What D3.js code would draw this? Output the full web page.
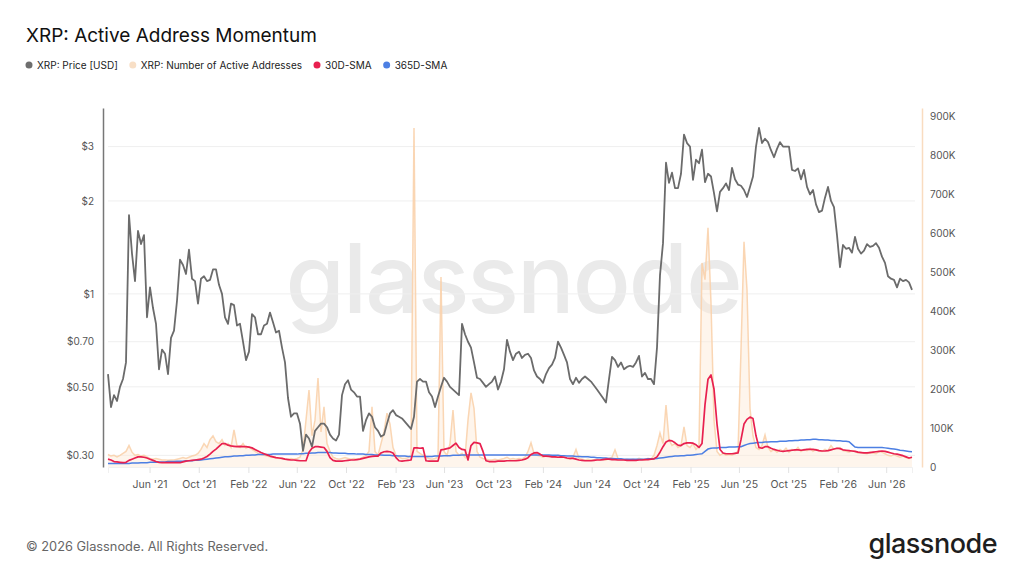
<!DOCTYPE html>
<html>
<head>
<meta charset="utf-8">
<script src="https://cdn.jsdelivr.net/npm/d3@7"></script>
<style>
  html, body { margin: 0; padding: 0; background: #fff; }
  svg { display: block; font-family: Inter, "Noto Sans", sans-serif; }
</style>
</head>
<body>
<svg id="chart" width="1024" height="576"></svg>
<script>
// Series sampled on an even grid between the first and last day shown
var startDay = Date.UTC(2021, 1, 18);
var endDay = Date.UTC(2026, 7, 4);

var priceUsd = [
  0.55,0.43,0.47,0.45,0.50,0.53,0.60,1.80,1.35,1.10,
  1.60,1.45,1.55,0.84,1.05,0.90,0.80,0.57,0.66,0.64,
  0.55,0.72,0.76,0.95,1.29,1.24,1.16,1.39,1.12,1.10,
  0.93,1.12,1.14,1.10,1.11,1.20,1.20,1.07,1.00,0.84,
  0.80,0.93,0.92,0.79,0.80,0.70,0.61,0.65,0.86,0.84,
  0.74,0.74,0.79,0.80,0.87,0.81,0.75,0.76,0.67,0.60,
  0.46,0.40,0.41,0.41,0.38,0.31,0.35,0.34,0.32,0.36,
  0.37,0.38,0.38,0.37,0.35,0.34,0.335,0.35,0.47,0.51,
  0.525,0.49,0.48,0.465,0.465,0.36,0.39,0.41,0.40,0.37,
  0.36,0.345,0.35,0.38,0.41,0.42,0.405,0.40,0.395,0.385,
  0.375,0.365,0.40,0.52,0.53,0.52,0.52,0.48,0.465,0.43,
  0.465,0.50,0.535,0.52,0.50,0.49,0.48,0.47,0.80,0.74,
  0.70,0.67,0.60,0.535,0.53,0.515,0.50,0.51,0.52,0.54,
  0.49,0.52,0.57,0.71,0.65,0.61,0.64,0.65,0.62,0.635,
  0.64,0.62,0.565,0.54,0.53,0.515,0.55,0.575,0.59,0.62,
  0.70,0.67,0.635,0.60,0.53,0.51,0.535,0.515,0.53,0.54,
  0.53,0.52,0.505,0.49,0.475,0.46,0.445,0.53,0.625,0.61,
  0.58,0.60,0.57,0.58,0.585,0.58,0.60,0.63,0.54,0.555,
  0.53,0.53,0.51,0.67,1.15,1.46,2.66,2.29,2.47,2.20,
  2.20,2.45,3.28,3.08,3.00,2.34,2.72,2.65,2.93,2.30,
  2.45,2.40,2.12,1.85,2.14,2.20,2.28,2.17,2.56,2.35,
  2.26,2.24,2.17,2.06,2.22,2.40,3.00,3.45,3.08,3.18,
  3.10,2.92,2.77,2.95,3.10,3.00,3.00,3.00,2.52,2.50,
  2.55,2.35,2.52,2.22,2.10,2.17,1.95,1.84,1.86,2.05,
  2.22,2.00,1.91,1.55,1.22,1.44,1.40,1.41,1.36,1.53,
  1.40,1.35,1.38,1.45,1.42,1.43,1.46,1.41,1.32,1.26,
  1.14,1.12,1.11,1.05,1.12,1.10,1.11,1.09,1.03
];

// active addresses, thousands
var activeK = [
  32,28,30,26,30,35,40,55,38,30,
  32,28,30,26,22,20,22,20,18,18,
  17,18,18,20,22,24,22,25,28,30,
  35,45,60,50,70,80,65,60,70,55,
  60,50,95,55,50,60,48,52,45,40,
  35,32,30,28,26,25,24,22,22,20,
  20,22,20,22,25,45,120,197,80,120,
  228,90,154,60,40,25,22,20,22,24,
  22,20,22,20,22,25,30,40,154,40,
  30,60,90,138,110,50,30,25,22,22,
  24,30,869,40,35,30,25,22,20,22,
  25,487,40,30,60,146,40,30,35,25,
  120,190,150,40,25,22,20,18,18,20,
  18,20,22,25,20,22,20,22,20,25,
  40,62,35,30,28,25,28,30,26,25,
  30,28,25,22,20,25,45,22,20,18,
  20,18,18,20,18,20,18,22,25,44,
  22,20,18,20,18,20,18,22,20,18,
  22,20,30,55,87,60,159,70,55,60,
  50,55,103,55,50,60,45,55,523,480,
  613,420,120,40,30,35,30,32,30,35,
  40,300,577,454,150,80,50,45,55,82,
  50,40,45,38,45,40,48,38,45,42,
  50,40,45,42,48,40,45,42,40,45,
  42,55,45,48,50,42,40,38,42,40,
  36,38,35,34,38,36,34,40,38,34,
  30,28,32,28,25,28,24,22,25
];

var sma30K = [
  20,18,14,13,12,11,12,17,20,23,
  26,26,25,23,20,17,14,12,11,11,
  11,11,11,11,11,13,15,16,17,18,
  19,20,23,27,33,40,46,53,60,60,
  56,54,53,52,53,52,52,51,49,45,
  41,37,34,31,28,26,24,23,22,20,
  19,18,18,17,16,16,16,38,48,52,
  52,51,50,40,24,17,15,15,15,16,
  17,18,18,19,20,22,24,26,27,28,
  28,36,39,40,39,36,24,16,15,16,
  17,18,49,49,48,49,16,15,15,15,
  15,44,45,47,49,55,61,50,45,44,
  18,55,63,62,60,40,16,14,14,14,
  15,15,15,16,16,16,16,17,18,20,
  24,32,36,37,33,28,28,27,26,26,
  25,26,25,23,22,22,20,18,17,16,
  16,16,17,18,18,19,20,20,19,19,
  18,18,18,17,17,17,17,18,18,19,
  19,20,21,26,38,52,64,68,67,62,
  56,55,60,62,62,61,57,50,60,160,
  225,236,200,110,45,36,34,34,34,35,
  36,70,110,122,128,124,80,50,48,52,
  52,48,45,43,41,40,41,42,43,44,
  44,43,44,45,45,45,44,42,41,41,
  42,44,46,48,47,44,43,42,41,40,
  38,37,36,36,37,38,39,40,41,40,
  38,36,34,33,31,29,26,23,25
];

var sma365K = [
  9,9,9,9,9,9,9,
  9,10,10,10,11,11,11,12,12,12,13,
  13,13,14,14,14,15,15,15,16,16,16,
  17,17,18,19,20,21,22,23,24,25,26,
  26,27,28,28,29,29,30,30,31,31,32,
  32,32,32,32,33,33,33,33,33,33,33,
  33,33,34,34,35,35,36,36,37,37,37,
  37,37,36,36,35,35,35,34,34,34,33,
  33,33,32,32,32,31,31,31,30,30,30,
  29,29,28,28,28,27,27,27,27,27,27,
  27,27,27,28,28,28,29,29,29,30,30,
  30,31,31,31,31,31,31,31,31,31,31,
  31,31,31,31,31,31,31,31,31,31,31,
  31,31,31,31,31,31,31,31,31,30,30,
  30,29,29,28,28,28,27,27,26,26,26,
  25,25,24,24,23,23,22,22,21,21,21,
  20,20,20,20,20,20,20,20,21,21,21,
  22,23,24,25,26,27,28,28,29,29,30,
  30,31,32,33,34,40,46,48,49,49,50,
  50,50,51,51,51,52,52,55,58,60,61,
  62,63,63,64,64,65,65,65,66,66,66,
  67,67,68,68,69,69,70,70,71,71,70,
  70,69,69,68,68,67,67,66,66,65,58,
  51,50,50,50,50,50,50,50,50,50,49,
  48,47,46,45,43,42,41,40,39
];

var priceTicks = [0.3, 0.5, 0.7, 1, 2, 3];
var priceTickLabels = ["$0.30", "$0.50", "$0.70", "$1", "$2", "$3"];
var addrTicks = [0, 100, 200, 300, 400, 500, 600, 700, 800, 900];

var legendNames = ["XRP: Price [USD]", "XRP: Number of Active Addresses", "30D-SMA", "365D-SMA"];
var legendColors = ["#6e6e6e", "#f8dfc6", "#e8204f", "#4c7fe3"];

var colors = {price: "#6b6b6b", addr: "#f9d2ac", sma30: "#e8204f", sma365: "#4c7fe3"};
var margin = {top: 108, right: 112, bottom: 109, left: 108};
var W = 1024, H = 576;

var svg = d3.select("#chart");

function withDates(values) {
  var step = (endDay - startDay) / (values.length - 1);
  return values.map(function (v, i) {
    return {date: new Date(startDay + i * step), value: v};
  });
}

var x = d3.scaleUtc()
  .domain([new Date(startDay), new Date(endDay)])
  .range([margin.left, W - margin.right]);

var yPrice = d3.scaleLog()
  .domain([0.275, 4.0])
  .range([H - margin.bottom, margin.top]);

var yAddr = d3.scaleLinear()
  .domain([0, 920])
  .range([H - margin.bottom, margin.top]);

// title + legend
svg.append("text")
  .attr("x", 26).attr("y", 42)
  .attr("font-size", 19)
  .attr("fill", "#111")
  .text("XRP: Active Address Momentum");

var legend = svg.append("g").attr("transform", "translate(0,65)");
var cursor = 29;
legendNames.forEach(function (name, i) {
  legend.append("circle")
    .attr("cx", cursor)
    .attr("r", 3.5)
    .attr("fill", legendColors[i]);
  var t = legend.append("text")
    .attr("x", cursor + 8).attr("dy", "0.35em")
    .attr("font-size", 10)
    .attr("fill", "#222")
    .text(name);
  cursor += 8 + t.node().getComputedTextLength() + 15;
});

// watermark
svg.append("text")
  .attr("x", 513).attr("y", 313)
  .attr("text-anchor", "middle")
  .attr("font-size", 96)
  .attr("font-weight", 500)
  .attr("letter-spacing", -2)
  .attr("fill", "#eaeaea")
  .text("glassnode");

// grid lines on the price ticks
svg.append("g").selectAll("line")
  .data(priceTicks)
  .enter().append("line")
  .attr("x1", margin.left).attr("x2", W - margin.right + 3)
  .attr("y1", function (d) { return yPrice(d); })
  .attr("y2", function (d) { return yPrice(d); })
  .attr("stroke", "#efefef");

// x axis
var xTicks = d3.utcMonth.range(new Date(Date.UTC(2021, 0, 1)), new Date(endDay))
  .filter(function (d) { return d.getUTCMonth() % 4 === 1 && d > new Date(startDay); });
var xAxis = svg.append("g")
  .attr("transform", "translate(0," + (H - margin.bottom) + ")")
  .call(d3.axisBottom(x).tickValues(xTicks).tickFormat(d3.utcFormat("%b '%y")).tickSize(6).tickPadding(8));
xAxis.select(".domain").attr("stroke", "#f0f0f0");
xAxis.selectAll(".tick line").attr("stroke", "#e2e2e2");
xAxis.selectAll("text").attr("font-size", 10.5).attr("fill", "#555").attr("font-family", "Inter, sans-serif");

// left axis
var leftAxis = svg.append("g")
  .attr("transform", "translate(103,0)")
  .call(d3.axisLeft(yPrice).tickValues(priceTicks)
    .tickFormat(function (d, i) { return priceTickLabels[i]; })
    .tickSize(0).tickPadding(9));
leftAxis.select(".domain").attr("stroke", "#777").attr("stroke-width", 1.5);
leftAxis.selectAll("text").attr("font-size", 10).attr("fill", "#555").attr("font-family", "Inter, sans-serif");

// right axis
var rightAxis = svg.append("g")
  .attr("transform", "translate(922,0)")
  .call(d3.axisRight(yAddr).tickValues(addrTicks)
    .tickFormat(function (d) { return d === 0 ? "0" : d + "K"; })
    .tickSize(0).tickPadding(8));
rightAxis.select(".domain").attr("stroke", "#f9dcc0").attr("stroke-width", 1.5);
rightAxis.selectAll("text").attr("font-size", 10).attr("fill", "#555").attr("font-family", "Inter, sans-serif");

// series
var addrLine = d3.line()
  .x(function (d) { return x(d.date); })
  .y(function (d) { return yAddr(d.value); });
var addrArea = d3.area()
  .x(function (d) { return x(d.date); })
  .y0(yAddr(0))
  .y1(function (d) { return yAddr(d.value); });
var priceLine = d3.line()
  .x(function (d) { return x(d.date); })
  .y(function (d) { return yPrice(d.value); });

var addrData = withDates(activeK);
svg.append("path")
  .datum(addrData)
  .attr("d", addrArea)
  .attr("fill", "#fde8d4")
  .attr("fill-opacity", 0.45);
svg.append("path")
  .datum(addrData)
  .attr("d", addrLine)
  .attr("fill", "none")
  .attr("stroke", colors.addr)
  .attr("stroke-width", 1.5)
  .attr("stroke-opacity", 0.9);

svg.append("path")
  .datum(withDates(priceUsd))
  .attr("d", priceLine)
  .attr("fill", "none")
  .attr("stroke", colors.price)
  .attr("stroke-width", 1.8)
  .attr("stroke-linejoin", "round");

svg.append("path")
  .datum(withDates(sma365K))
  .attr("d", addrLine)
  .attr("fill", "none")
  .attr("stroke", colors.sma365)
  .attr("stroke-width", 1.5);

svg.append("path")
  .datum(withDates(sma30K))
  .attr("d", addrLine)
  .attr("fill", "none")
  .attr("stroke", colors.sma30)
  .attr("stroke-width", 1.7)
  .attr("stroke-linejoin", "round");

// footer
svg.append("text")
  .attr("x", 26).attr("y", 551)
  .attr("font-size", 12.8)
  .attr("fill", "#666")
  .text("\u00a9 2026 Glassnode. All Rights Reserved.");

svg.append("text")
  .attr("x", 997).attr("y", 553)
  .attr("text-anchor", "end")
  .attr("font-size", 27)
  .attr("font-weight", 500)
  .attr("letter-spacing", -0.5)
  .attr("fill", "#1e1e1e")
  .text("glassnode");
</script>
</body>
</html>
